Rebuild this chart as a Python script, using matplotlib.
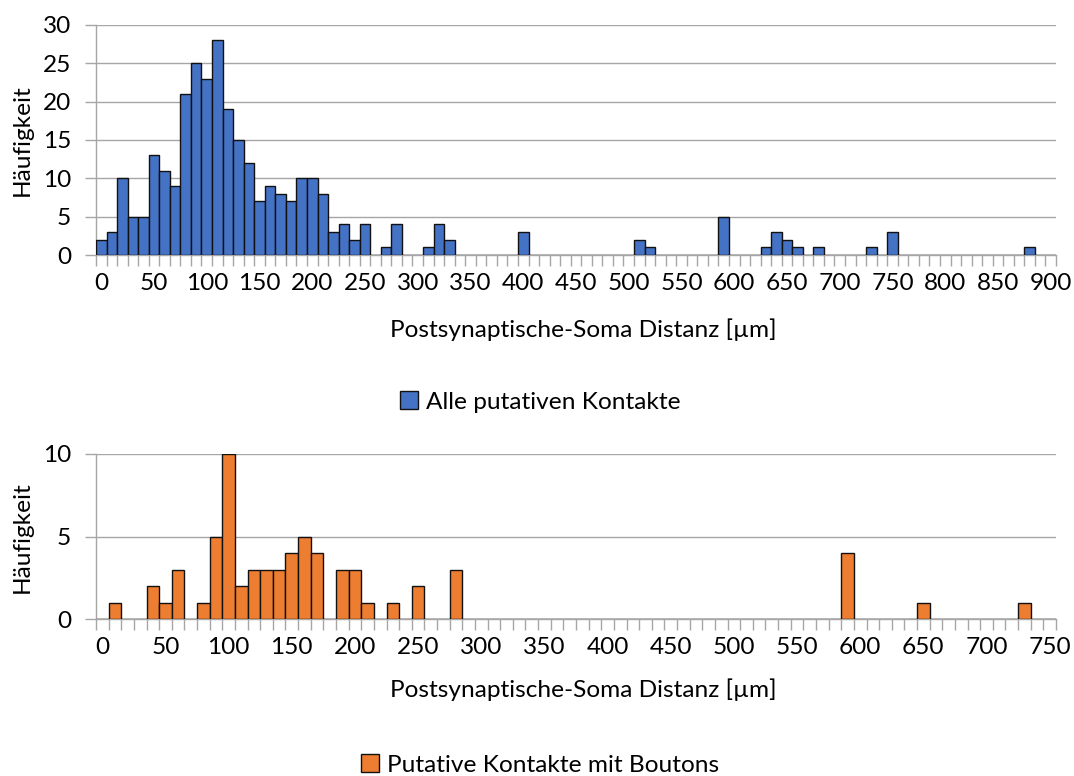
import matplotlib
matplotlib.use("Agg")
import matplotlib.pyplot as plt
from matplotlib.patches import Patch
import numpy as np

plt.rcParams['font.family'] = ['Lato', 'DejaVu Sans']

# Distance bins (µm), 10 µm wide
bins_all = list(range(0, 910, 10))
bins_bouton = list(range(0, 760, 10))

# Counts per bin: all putative contacts
counts_all = [
    2, 3, 10, 5, 5, 13, 11, 9, 21, 25,      # 0-90
    23, 28, 19, 15, 12, 7, 9, 8, 7, 10,     # 100-190
    10, 8, 3, 4, 2, 4, 0, 1, 4, 0,          # 200-290
    0, 1, 4, 2, 0, 0, 0, 0, 0, 0,           # 300-390
    3, 0, 0, 0, 0, 0, 0, 0, 0, 0,           # 400-490
    0, 2, 1, 0, 0, 0, 0, 0, 0, 5,           # 500-590
    0, 0, 0, 1, 3, 2, 1, 0, 1, 0,           # 600-690
    0, 0, 0, 1, 0, 3, 0, 0, 0, 0,           # 700-790
    0, 0, 0, 0, 0, 0, 0, 0, 1, 0,           # 800-890
    0,                                      # 900
]

# Counts per bin: putative contacts with boutons
counts_bouton = [
    0, 1, 0, 0, 2, 1, 3, 0, 1, 5,           # 0-90
    10, 2, 3, 3, 3, 4, 5, 4, 0, 3,          # 100-190
    3, 1, 0, 1, 0, 2, 0, 0, 3, 0,           # 200-290
    0, 0, 0, 0, 0, 0, 0, 0, 0, 0,           # 300-390
    0, 0, 0, 0, 0, 0, 0, 0, 0, 0,           # 400-490
    0, 0, 0, 0, 0, 0, 0, 0, 0, 4,           # 500-590
    0, 0, 0, 0, 0, 1, 0, 0, 0, 0,           # 600-690
    0, 0, 0, 1, 0, 0,                       # 700-750
]

label_all = "Alle putativen Kontakte"
label_bouton = "Putative Kontakte mit Boutons"
xlabel = "Postsynaptische-Soma Distanz [µm]"
ylabel = "Häufigkeit"

BLUE = "#4472C4"
ORANGE = "#ED7D31"
GRID = "#A6A6A6"
TXT = "#000000"
FS = 17.6

W, H = 1074, 776
fig = plt.figure(figsize=(W / 100, H / 100), dpi=100)


def px_axes(left, right, top, bottom):
    return fig.add_axes([left / W, 1 - bottom / H, (right - left) / W, (bottom - top) / H])


def draw_hist(ax, bins, counts, color, ymax, ystep):
    n = len(bins)
    x = np.arange(n)
    ax.bar(x, counts, width=1.0, color=color, edgecolor="#111111", linewidth=1.0, zorder=3)
    ax.set_xlim(-0.5, n - 0.5)
    ax.set_ylim(0, ymax)
    ax.set_yticks(np.arange(0, ymax + 1, ystep))
    ax.grid(axis="y", color=GRID, linewidth=1.0, zorder=0)
    for s in ["top", "right"]:
        ax.spines[s].set_visible(False)
    for s in ["left", "bottom"]:
        ax.spines[s].set_color(GRID)
        ax.spines[s].set_linewidth(1.0)
    # category labels every 5 bins, tick marks at every bin boundary
    major = [i for i in range(n) if bins[i] % 50 == 0]
    ax.set_xticks(major)
    ax.set_xticklabels([str(bins[i]) for i in major])
    ax.set_xticks(np.arange(n + 1) - 0.5, minor=True)
    ax.tick_params(axis="x", which="major", length=0, pad=13, labelsize=FS, labelcolor=TXT)
    ax.tick_params(axis="x", which="minor", length=8, color=GRID, width=1.0)
    ax.tick_params(axis="y", length=8, color=GRID, width=1.0, pad=10, labelsize=FS, labelcolor=TXT)


ax1 = px_axes(96, 1056, 25, 255)
draw_hist(ax1, bins_all, counts_all, BLUE, 30, 5)
ax2 = px_axes(96, 1056, 454, 619)
draw_hist(ax2, bins_bouton, counts_bouton, ORANGE, 10, 5)

# axis titles
fig.text(583 / W, 1 - 330 / H, xlabel, ha="center", va="center", fontsize=FS, color=TXT)
fig.text(583 / W, 1 - 690 / H, xlabel, ha="center", va="center", fontsize=FS, color=TXT)
fig.text(22 / W, 1 - 140 / H, ylabel, ha="center", va="center", rotation=90, fontsize=FS, color=TXT)
fig.text(22 / W, 1 - 537 / H, ylabel, ha="center", va="center", rotation=90, fontsize=FS, color=TXT)

# legends below each panel
for color, label, yc in [(BLUE, label_all, 402), (ORANGE, label_bouton, 765)]:
    fig.legend(handles=[Patch(facecolor=color, edgecolor="#111111", linewidth=1.0, label=label)],
               loc="center", bbox_to_anchor=(540 / W, 1 - yc / H), frameon=False,
               fontsize=FS, handlelength=0.75, handleheight=0.75, handletextpad=0.3,
               borderaxespad=0, borderpad=0)

fig.savefig("out.png", dpi=100, facecolor="white")
